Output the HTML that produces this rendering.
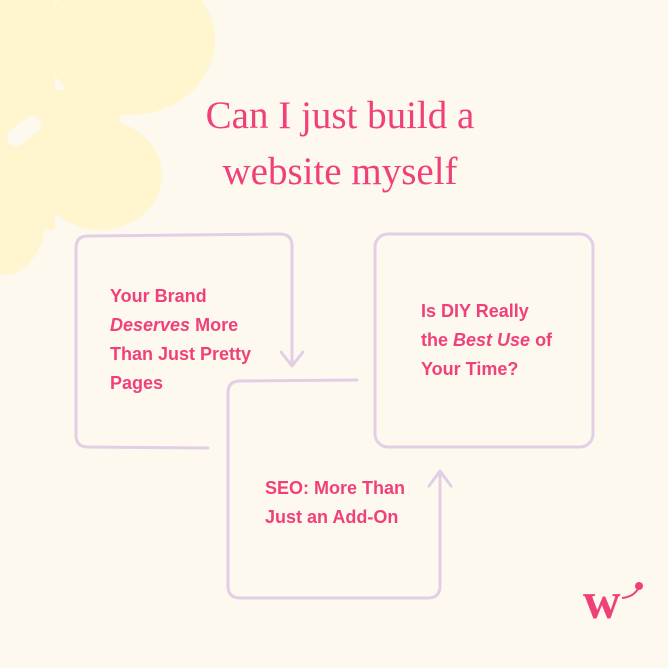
<!DOCTYPE html>
<html><head><meta charset="utf-8"><style>
body{margin:0;width:668px;height:668px;background:#fef9ee;overflow:hidden;position:relative;font-family:"Liberation Sans",sans-serif}
.t{position:absolute;color:#f0407a;font-weight:bold;font-size:18px;line-height:29px}
h1{position:absolute;margin:0;left:6px;width:668px;top:88px;text-align:center;font-family:"Liberation Serif",serif;font-weight:normal;color:#f0407a;font-size:39px;line-height:56px}
</style></head><body>
<svg width="668" height="668" style="position:absolute;left:0;top:0">
<g fill="#fff5cf">
<ellipse cx="130" cy="40" rx="85" ry="75"/>
<ellipse cx="100" cy="175" rx="62" ry="55"/>
<ellipse cx="10" cy="90" rx="45" ry="110"/>
<ellipse cx="5" cy="210" rx="42" ry="65"/>
<rect x="0" y="0" width="55" height="230"/>
<rect x="30" y="90" width="90" height="100"/>
</g>
<rect x="5" y="122" width="38" height="18" rx="9" fill="#fef9ee" transform="rotate(-38 24 131)"/>
<g fill="none" stroke="#e2cfe6" stroke-width="3" stroke-linecap="round" stroke-linejoin="round">
<path d="M208,448 L88,447 Q76,447 76,435 L76,248 Q76,236 88,236 L280,234 Q292,234 292,246 L292,365"/>
<path d="M281,352 L292,366 L303,352"/>
<path d="M357,380 L240,381 Q228,381 228,393 L228,586 Q228,598 240,598 L428,598 Q440,598 440,586 L440,472"/>
<path d="M429,486 L440,471 L451,486"/>
<rect x="375" y="234" width="218" height="213" rx="13"/>
</g>
<circle cx="639" cy="586" r="4" fill="#f0407a"/>
<path d="M622,598 Q633,597 638,589" stroke="#f0407a" stroke-width="2" fill="none"/>
</svg>
<h1>Can I just build a<br>website myself</h1>
<div class="t" style="left:110px;top:282px">Your Brand<br><i>Deserves</i> More<br>Than Just Pretty<br>Pages</div>
<div class="t" style="left:421px;top:297px">Is DIY Really<br>the <i>Best Use</i> of<br>Your Time?</div>
<div class="t" style="left:265px;top:474px">SEO: More Than<br>Just an Add-On</div>
<div style="position:absolute;left:583px;top:576px;font-family:'Liberation Serif',serif;font-weight:bold;font-size:52px;line-height:52px;color:#f0407a">w</div>
</body></html>
